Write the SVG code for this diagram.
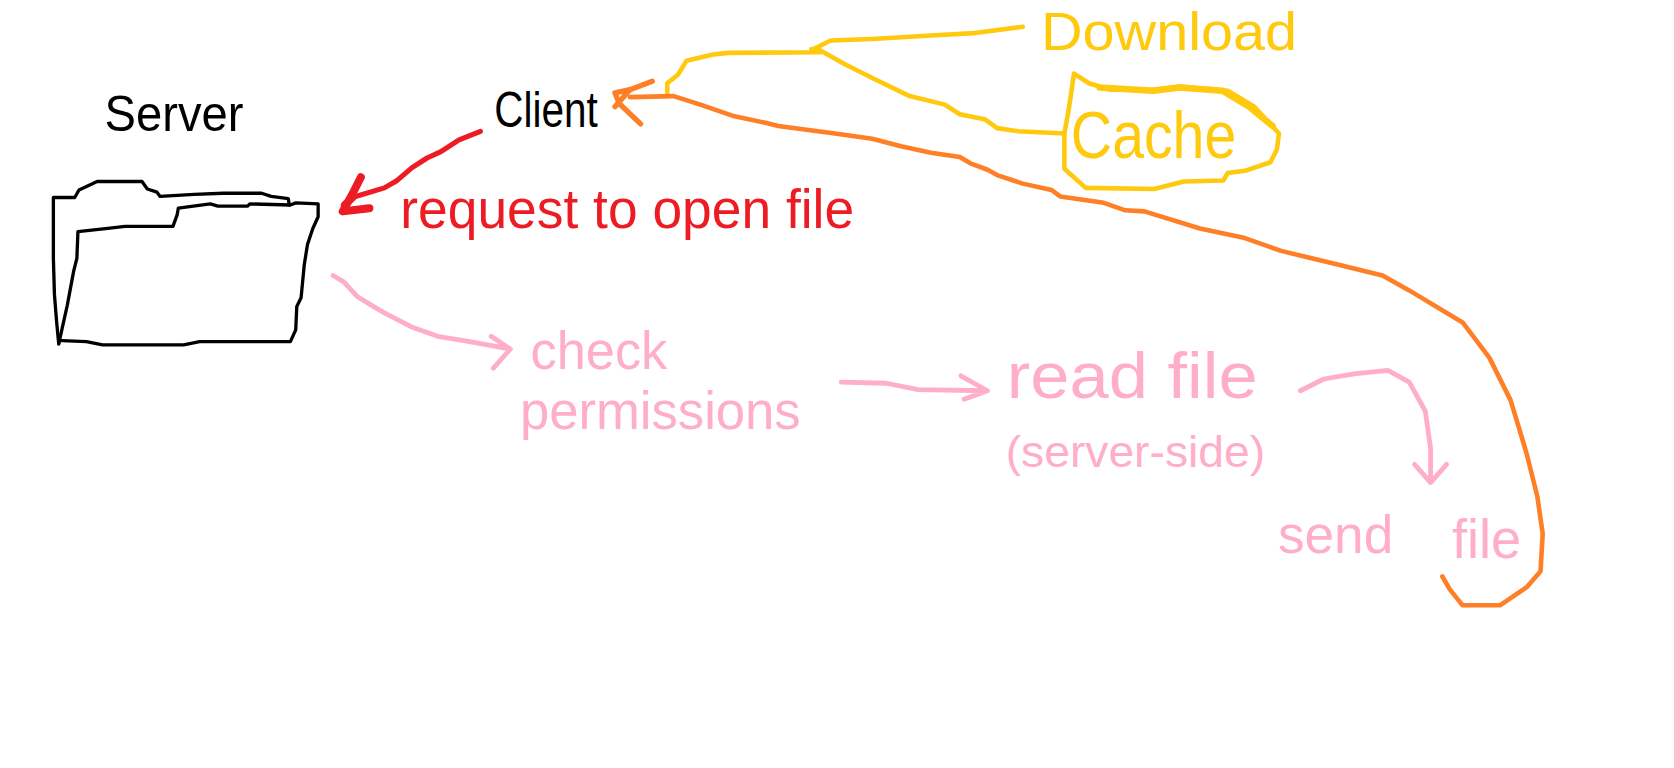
<svg xmlns="http://www.w3.org/2000/svg" width="1674" height="768" viewBox="0 0 1674 768">
<style>
text{font-family:"Liberation Sans",Arial,sans-serif;}
path{fill:none;stroke-linejoin:round;stroke-linecap:round;}
.k{stroke:#000;stroke-width:3.1;}
.r{stroke:#ed1c24;stroke-width:4.8;}
.rh{stroke:#ed1c24;stroke-width:7.5;}
.p{stroke:#ffaec9;stroke-width:4.5;}
.y{stroke:#ffc90e;stroke-width:4.3;}
.o{stroke:#ff7f27;stroke-width:4.3;}
.tk{fill:#000;}
.tr{fill:#ed1c24;}
.tp{fill:#ffaec9;}
.ty{fill:#ffc90e;}
</style>
<rect width="1674" height="768" fill="#fff"/>
<g transform="scale(1.0676)">
<g id="connectors">
<path id="request-arrow" class="r" d="M450 123L430 131L413 142L400 148L386 157L372 169L360 176L330 185"/>
<path id="request-head" class="rh" d="M338 166L330 182L321 198L346 195M330 185L323 192"/>
<path id="check-arrow" class="p" d="M312 258L322 264L335 278L348 286L360 293L385 306L410 315L440 320L478 327M460 315L478 327L462 345"/>
<path id="read-arrow" class="p" d="M788 358L830 359L860 365L925 366M900 352L925 366L903 374"/>
<path id="send-arrow" class="p" d="M1218 366L1240 355L1270 350L1300 347L1320 358L1335 385L1340 420L1340 450M1325 435L1340 452L1355 435"/>
<path id="download-line" class="y" d="M958 25L913 31L876 33L817 36.5L778 38L762 46L768 49L682 49.5L668 51L643 57L635 70L625 78L625 90"/>
<path id="cache-line" class="y" d="M760 46L768 47L791 60L819 74L852 90L885 98L899 107L923 112L934 120L954 123L997 125"/>
<path id="return-line" class="o" d="M1351 540L1358 552L1370 567L1405 567L1430 550L1443 535L1445 500L1440 465L1430 425L1415 375L1395 335L1370 302L1320 272L1295 258L1250 247L1200 235L1166 223L1124 214L1072 198L1054 197L1034 190L993 184L985 178L958 172L934 164L925 159L909 153L899 147L872 143L844 137L817 130L782 125L729 118L717 115L688 109L656 98L631 90L590 91"/>
<path id="return-head" class="o" style="stroke-width:5" d="M611 76L590 84L576 87L580 97L600 116M590 84L576 100"/>
</g>
<g id="server">
<text class="tk" x="98" y="123" font-size="46" textLength="130" lengthAdjust="spacingAndGlyphs">Server</text>
<path class="k" d="M55 322L53 301L51 276L50 242L50 185L70 185L74 178L91 170L133 170L138 177L147 180L150 184L182 182L209 181L245 181L254 184L270 186L271 192"/>
<path class="k" d="M55 322L63 286L69 254L72 242L73 217L101 214L117 212L162 212L166 201L167 195L197 191L204 193L232 193L234 191L272 192L277 190L298 191L298 203L293 214L288 229L285 248L282 279L278 287L277 309L272 320L187 320L172 323L96 323L81 320L58 319"/>
</g>
<g id="client">
<text class="tk" x="463" y="119" font-size="46" textLength="97" lengthAdjust="spacingAndGlyphs">Client</text>
</g>
<g id="request-label">
<text class="tr" x="375" y="214" font-size="52" textLength="425" lengthAdjust="spacingAndGlyphs">request to open file</text>
</g>
<g id="download">
<text class="ty" x="975" y="47" font-size="50" textLength="240" lengthAdjust="spacingAndGlyphs">Download</text>
</g>
<g id="cache">
<path class="y" d="M1006 69L1001 103L997 125L997 158L1017 176L1081 177L1109 170L1146 169L1150 162L1166 160L1190 152L1196 140L1198 125L1175 100L1150 85L1105 81L1080 84L1040 84L1020 78L1006 69"/>
<path class="y" style="stroke-width:6" d="M1030 82L1080 85L1105 82L1145 85L1170 100L1192 118"/>
<text class="ty" x="1003" y="148" font-size="62" textLength="155" lengthAdjust="spacingAndGlyphs">Cache</text>
</g>
<g id="check-permissions">
<text class="tp" x="497" y="346" font-size="50" textLength="128" lengthAdjust="spacingAndGlyphs">check</text>
<text class="tp" x="487" y="402" font-size="50" textLength="263" lengthAdjust="spacingAndGlyphs">permissions</text>
</g>
<g id="read-file">
<text class="tp" x="943" y="373" font-size="60" textLength="235" lengthAdjust="spacingAndGlyphs">read file</text>
<text class="tp" x="942" y="437" font-size="42" textLength="243" lengthAdjust="spacingAndGlyphs">(server-side)</text>
</g>
<g id="send-file">
<text class="tp" x="1197" y="518" font-size="50" textLength="108" lengthAdjust="spacingAndGlyphs">send</text>
<text class="tp" x="1360" y="523" font-size="52" textLength="65" lengthAdjust="spacingAndGlyphs">file</text>
</g>
</g>
</svg>
